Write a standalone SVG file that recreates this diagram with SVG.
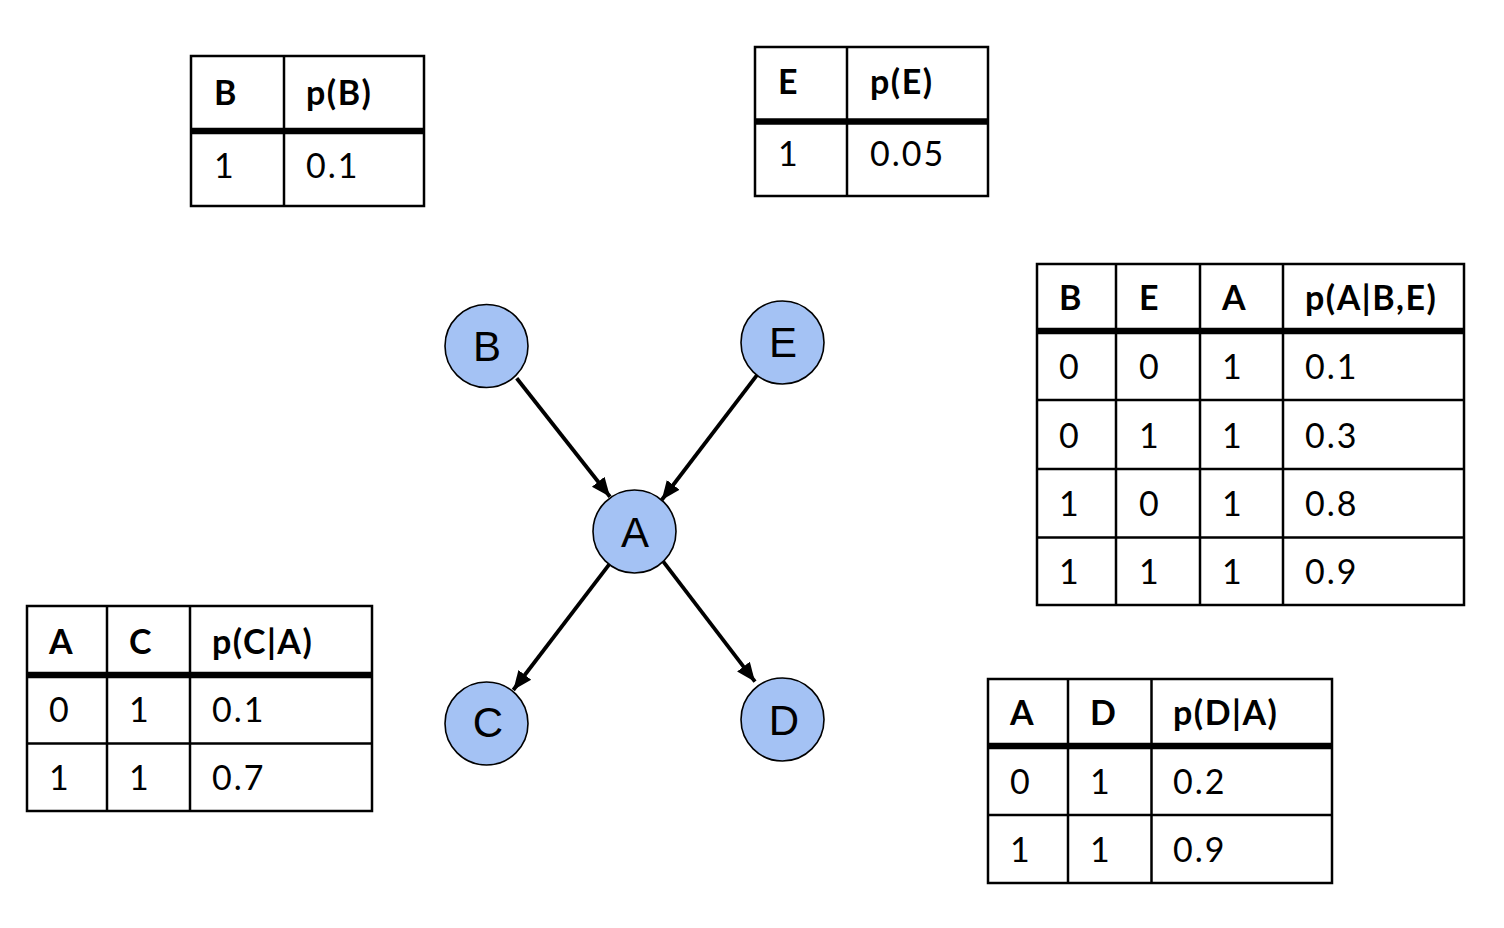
<svg xmlns="http://www.w3.org/2000/svg" width="1504" height="928" viewBox="0 0 1504 928">
<style>
.tb{fill:#fff;stroke:#000;stroke-width:2.5}
.ln{stroke:#000;stroke-width:2.5}
.thk{stroke:#000;stroke-width:6.5}
.h{font-family:Lato,"Liberation Sans",sans-serif;font-weight:bold;font-size:34px;letter-spacing:1.5px;fill:#000}
.d{font-family:Lato,"Liberation Sans",sans-serif;font-size:34px;letter-spacing:2px;fill:#000}
.nd{fill:#a4c2f4;stroke:#000;stroke-width:1.6}
.nt{font-family:"Liberation Sans",Arial,sans-serif;font-size:42px;fill:#000;text-anchor:middle}
.e{stroke:#000;stroke-width:3.8;fill:none;marker-end:url(#ah)}
</style>
<defs>
<marker id="ah" markerUnits="userSpaceOnUse" markerWidth="22" markerHeight="18" viewBox="0 0 22 18" refX="19" refY="9" orient="auto">
<path d="M0,1 L19,9 L0,17 Z" fill="#000"/>
</marker>
</defs>
<rect width="1504" height="928" fill="#fff"/>

<g id="tableB">
<rect class="tb" x="191" y="56" width="233" height="150"/>
<line class="ln" x1="284" y1="56" x2="284" y2="206"/>
<line class="thk" x1="191" y1="131" x2="424" y2="131"/>
<text class="h" x="214" y="105">B</text>
<text class="h" x="306" y="105">p(B)</text>
<text class="d" x="214" y="178">1</text>
<text class="d" x="306" y="178">0.1</text>
</g>

<g id="tableE">
<rect class="tb" x="755" y="47" width="233" height="149"/>
<line class="ln" x1="847" y1="47" x2="847" y2="196"/>
<line class="thk" x1="755" y1="121.5" x2="988" y2="121.5"/>
<text class="h" x="778" y="94">E</text>
<text class="h" x="870" y="94">p(E)</text>
<text class="d" x="778" y="166">1</text>
<text class="d" x="870" y="166">0.05</text>
</g>

<g id="tableA">
<rect class="tb" x="1037" y="264" width="427" height="341"/>
<line class="ln" x1="1116" y1="264" x2="1116" y2="605"/>
<line class="ln" x1="1200" y1="264" x2="1200" y2="605"/>
<line class="ln" x1="1283" y1="264" x2="1283" y2="605"/>
<line class="thk" x1="1037" y1="331" x2="1464" y2="331"/>
<line class="ln" x1="1037" y1="400" x2="1464" y2="400"/>
<line class="ln" x1="1037" y1="469" x2="1464" y2="469"/>
<line class="ln" x1="1037" y1="537.5" x2="1464" y2="537.5"/>
<text class="h" x="1059" y="310">B</text>
<text class="h" x="1139" y="310">E</text>
<text class="h" x="1222" y="310">A</text>
<text class="h" x="1305" y="310">p(A|B,E)</text>
<text class="d" x="1059" y="379">0</text><text class="d" x="1139" y="379">0</text><text class="d" x="1222" y="379">1</text><text class="d" x="1305" y="379">0.1</text>
<text class="d" x="1059" y="448">0</text><text class="d" x="1139" y="448">1</text><text class="d" x="1222" y="448">1</text><text class="d" x="1305" y="448">0.3</text>
<text class="d" x="1059" y="516">1</text><text class="d" x="1139" y="516">0</text><text class="d" x="1222" y="516">1</text><text class="d" x="1305" y="516">0.8</text>
<text class="d" x="1059" y="584">1</text><text class="d" x="1139" y="584">1</text><text class="d" x="1222" y="584">1</text><text class="d" x="1305" y="584">0.9</text>
</g>

<g id="tableC">
<rect class="tb" x="27" y="606" width="345" height="205"/>
<line class="ln" x1="107" y1="606" x2="107" y2="811"/>
<line class="ln" x1="190" y1="606" x2="190" y2="811"/>
<line class="thk" x1="27" y1="675" x2="372" y2="675"/>
<line class="ln" x1="27" y1="743.5" x2="372" y2="743.5"/>
<text class="h" x="49" y="654">A</text>
<text class="h" x="129" y="654">C</text>
<text class="h" x="212" y="654">p(C|A)</text>
<text class="d" x="49" y="722">0</text><text class="d" x="129" y="722">1</text><text class="d" x="212" y="722">0.1</text>
<text class="d" x="49" y="790">1</text><text class="d" x="129" y="790">1</text><text class="d" x="212" y="790">0.7</text>
</g>

<g id="tableD">
<rect class="tb" x="988" y="679" width="344" height="204"/>
<line class="ln" x1="1068" y1="679" x2="1068" y2="883"/>
<line class="ln" x1="1151.5" y1="679" x2="1151.5" y2="883"/>
<line class="thk" x1="988" y1="746" x2="1332" y2="746"/>
<line class="ln" x1="988" y1="815" x2="1332" y2="815"/>
<text class="h" x="1010" y="725">A</text>
<text class="h" x="1090" y="725">D</text>
<text class="h" x="1173" y="725">p(D|A)</text>
<text class="d" x="1010" y="794">0</text><text class="d" x="1090" y="794">1</text><text class="d" x="1173" y="794">0.2</text>
<text class="d" x="1010" y="862">1</text><text class="d" x="1090" y="862">1</text><text class="d" x="1173" y="862">0.9</text>
</g>

<g id="connectors">
<line class="e" x1="516.7" y1="378.3" x2="610" y2="496.7"/>
<line class="e" x1="758.3" y1="373.3" x2="661.7" y2="500"/>
<line class="e" x1="610" y1="563.3" x2="513.3" y2="690"/>
<line class="e" x1="663.3" y1="561.7" x2="755" y2="681.7"/>
</g>

<g id="nodeB"><circle class="nd" cx="486.5" cy="346" r="41.5"/><text class="nt" x="487" y="361">B</text></g>
<g id="nodeE"><circle class="nd" cx="782.5" cy="342.5" r="41.5"/><text class="nt" x="783" y="357">E</text></g>
<g id="nodeA"><circle class="nd" cx="634.5" cy="531.5" r="41.5"/><text class="nt" x="635" y="547">A</text></g>
<g id="nodeC"><circle class="nd" cx="486.5" cy="723.5" r="41.5"/><text class="nt" x="488" y="737">C</text></g>
<g id="nodeD"><circle class="nd" cx="782.5" cy="719.5" r="41.5"/><text class="nt" x="784" y="735">D</text></g>
</svg>
